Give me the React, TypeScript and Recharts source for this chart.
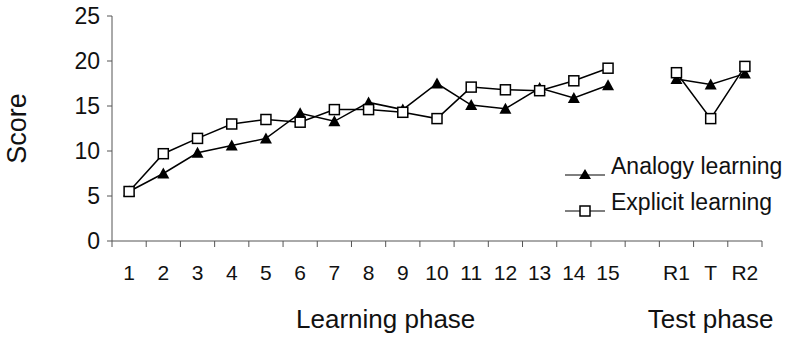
import React from "react";
import { LineChart, Line, XAxis, YAxis, Legend } from "recharts";

const categories = ["1", "2", "3", "4", "5", "6", "7", "8", "9", "10", "11", "12", "13", "14", "15", "", "R1", "T", "R2"];
const analogy = [5.5, 7.5, 9.8, 10.6, 11.4, 14.2, 13.3, 15.4, 14.6, 17.5, 15.1, 14.7, 17.0, 15.9, 17.3, null, 18.0, 17.4, 18.6];
const explicit = [5.5, 9.7, 11.4, 13.0, 13.5, 13.2, 14.6, 14.6, 14.3, 13.6, 17.1, 16.8, 16.7, 17.8, 19.2, null, 18.7, 13.6, 19.4];
const yTicks = [0, 5, 10, 15, 20, 25];
const phaseLabels = ["Learning phase", "Test phase"];
const phaseCenters = [8, 17.5];

const data = categories.map((c, i) => ({
  x: i + 0.5,
  label: c,
  analogy: analogy[i],
  explicit: explicit[i],
}));

const FONT = "'Liberation Sans', Arial, sans-serif";
const AXIS = "#555";

const Triangle = ({ cx, cy }: any) => {
  if (cx == null || cy == null) return null;
  return <polygon points={`${cx - 6},${cy + 5} ${cx + 6},${cy + 5} ${cx},${cy - 6}`} fill="#000" />;
};

const Square = ({ cx, cy }: any) => {
  if (cx == null || cy == null) return null;
  return <rect x={cx - 5} y={cy - 5} width={10} height={10} fill="#fff" stroke="#000" strokeWidth={1.5} />;
};

function LegendBox() {
  const row = (name: string, marker: React.ReactNode) => (
    <div style={{ display: "flex", alignItems: "center", height: 36 }}>
      <svg width={46} height={36}>
        <line x1={0} y1={27} x2={40} y2={27} stroke="#000" strokeWidth={1.2} />
        {marker}
      </svg>
      <span style={{ fontSize: 23, fontFamily: FONT, color: "#111" }}>{name}</span>
    </div>
  );
  return (
    <div>
      {row("Analogy learning", <polygon points="14,31 26,31 20,21" fill="#000" />)}
      {row("Explicit learning", <rect x={15} y={22} width={10} height={10} fill="#fff" stroke="#000" strokeWidth={1.5} />)}
    </div>
  );
}

export default function App() {
  return (
    <div style={{ position: "absolute", left: 0, top: 0, background: "#fff" }}>
      <LineChart width={793} height={337} data={data} margin={{ top: 16, right: 31, bottom: 0, left: 0 }}>
        <XAxis
          xAxisId="grid"
          dataKey="x"
          type="number"
          domain={[0, 19]}
          ticks={categories.map((_, i) => i).concat([19])}
          interval={0}
          tickFormatter={() => ""}
          tickSize={6}
          height={6}
          stroke={AXIS}
        />
        <XAxis
          xAxisId="labels"
          dataKey="x"
          type="number"
          domain={[0, 19]}
          allowDataOverflow
          ticks={data.map((d) => d.x)}
          interval={0}
          tickFormatter={(v: number) => categories[Math.floor(v)]}
          axisLine={false}
          tickLine={false}
          tickSize={0}
          tickMargin={18}
          height={45}
          tick={{ fontSize: 21, fill: "#111", fontFamily: FONT }}
        />
        <XAxis
          xAxisId="phase"
          dataKey="x"
          type="number"
          domain={[0, 19]}
          allowDataOverflow
          ticks={phaseCenters}
          interval={0}
          tickFormatter={(v: number) => phaseLabels[phaseCenters.indexOf(v)]}
          axisLine={false}
          tickLine={false}
          tickSize={0}
          tickMargin={18}
          height={45}
          tick={{ fontSize: 26, fill: "#111", fontFamily: FONT }}
        />
        <YAxis
          domain={[0, 25]}
          ticks={yTicks}
          interval={0}
          width={112}
          tickSize={5}
          tickMargin={7}
          stroke={AXIS}
          tick={{ fontSize: 23, fill: "#111", fontFamily: FONT }}
          label={({ viewBox }: any) => (
            <text
              x={17}
              y={viewBox.y + viewBox.height / 2}
              transform={`rotate(-90, 17, ${viewBox.y + viewBox.height / 2})`}
              textAnchor="middle"
              dominantBaseline="central"
              fontSize={27}
              fontFamily={FONT}
              fill="#111"
            >
              Score
            </text>
          )}
        />
        <Legend
          layout="vertical"
          align="center"
          verticalAlign="middle"
          content={() => <LegendBox />}
          wrapperStyle={{ position: "absolute", left: 565, top: 148, width: 228 }}
        />
        <Line
          xAxisId="grid"
          dataKey="analogy"
          stroke="#000"
          strokeWidth={1.5}
          dot={<Triangle />}
          connectNulls={false}
          isAnimationActive={false}
        />
        <Line
          xAxisId="grid"
          dataKey="explicit"
          stroke="#000"
          strokeWidth={1.5}
          dot={<Square />}
          connectNulls={false}
          isAnimationActive={false}
        />
      </LineChart>
    </div>
  );
}
